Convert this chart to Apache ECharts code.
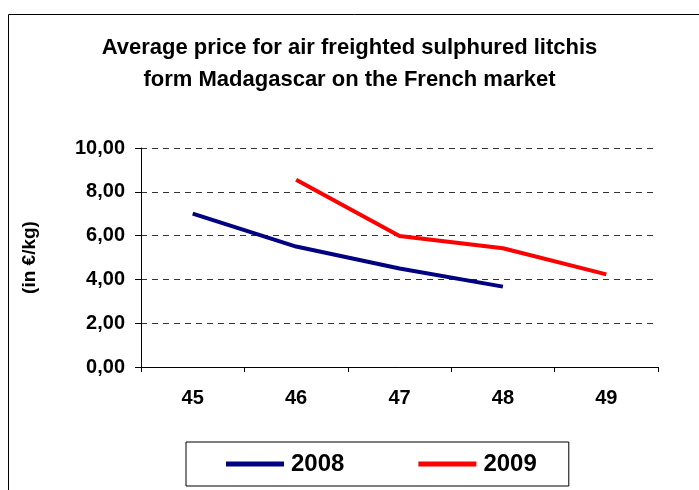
<!DOCTYPE html>
<html>
<head>
<meta charset="utf-8">
<script src="https://cdn.jsdelivr.net/npm/echarts@6/dist/echarts.min.js"></script>
<style>
  html, body { margin: 0; padding: 0; background: #fff; }
  #chart { width: 699px; height: 490px; }
</style>
</head>
<body>
<div id="chart"></div>
<script>
  var weeks = ['45', '46', '47', '48', '49'];
  var price2008 = [7.0, 5.5, 4.5, 3.67, null];
  var price2009 = [null, 8.55, 5.98, 5.42, 4.23];
  var yTicks = { min: 0, max: 10, interval: 2 };

  var font = '"Liberation Sans", Arial, sans-serif';
  var chart = echarts.init(document.getElementById('chart'));

  chart.setOption({
    animation: false,
    textStyle: { fontFamily: font },
    graphic: [{
      type: 'rect',
      left: 6, top: 12,
      shape: { width: 720, height: 520 },
      style: { fill: 'none', stroke: '#000', lineWidth: 1 },
      z: -1
    }],
    title: {
      text: 'Average price for air freighted sulphured litchis\nform Madagascar on the French market',
      left: 'center',
      top: 27,
      textStyle: { fontFamily: font, fontSize: 22, fontWeight: 'bold', color: '#000', lineHeight: 32 }
    },
    legend: {
      left: 186,
      top: 442,
      padding: [10, 32, 10, 40],
      itemGap: 74,
      itemWidth: 58,
      itemHeight: 5,
      icon: 'rect',
      borderColor: '#000',
      borderWidth: 1,
      textStyle: { fontFamily: font, fontSize: 24, fontWeight: 'bold', color: '#000', padding: [0, 0, 0, 2] },
      data: ['2008', '2009']
    },
    grid: { left: 141, right: 41, top: 148, bottom: 123 },
    xAxis: {
      type: 'category',
      data: weeks,
      boundaryGap: true,
      axisLine: { lineStyle: { color: '#000', width: 1 } },
      axisTick: { show: true, length: 5, lineStyle: { color: '#000' } },
      axisLabel: { margin: 21, fontFamily: font, fontSize: 20, fontWeight: 'bold', color: '#000' }
    },
    yAxis: {
      type: 'value',
      min: yTicks.min,
      max: yTicks.max,
      interval: yTicks.interval,
      name: '(in €/kg)',
      nameLocation: 'middle',
      nameGap: 102,
      nameTextStyle: { fontFamily: font, fontSize: 19, fontWeight: 'bold', color: '#000' },
      axisLine: { show: true, lineStyle: { color: '#000', width: 1 } },
      axisTick: { show: true, length: 6, lineStyle: { color: '#000' } },
      axisLabel: {
        margin: 16,
        fontFamily: font, fontSize: 20, fontWeight: 'bold', color: '#000',
        formatter: function (v) { return v.toFixed(2).replace('.', ','); }
      },
      splitLine: { show: true, lineStyle: { color: '#333', type: [6, 5], width: 1 } }
    },
    series: [
      {
        name: '2008',
        type: 'line',
        data: price2008,
        showSymbol: false,
        symbol: 'none',
        color: '#000080',
        lineStyle: { width: 4, color: '#000080' }
      },
      {
        name: '2009',
        type: 'line',
        data: price2009,
        showSymbol: false,
        symbol: 'none',
        color: '#ff0000',
        lineStyle: { width: 4, color: '#ff0000' }
      }
    ]
  });
</script>
</body>
</html>
